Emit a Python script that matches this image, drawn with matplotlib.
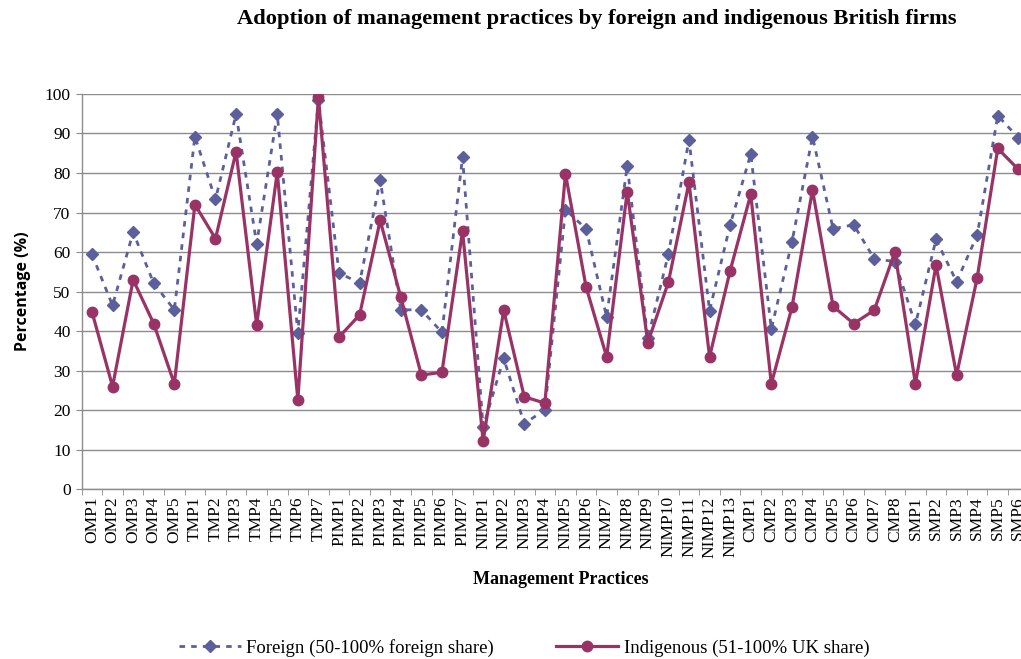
import numpy as np
import matplotlib.pyplot as plt

# Management practice codes (x categories)
practices = (["OMP%d" % i for i in range(1, 6)] +
             ["TMP%d" % i for i in range(1, 8)] +
             ["PIMP%d" % i for i in range(1, 8)] +
             ["NIMP%d" % i for i in range(1, 14)] +
             ["CMP%d" % i for i in range(1, 9)] +
             ["SMP%d" % i for i in range(1, 7)])

# Foreign (50-100% foreign share)
foreign = [59.4, 46.5, 65.0, 52.1, 45.4,
           89.2, 73.3, 94.9, 62.1, 94.9, 39.5, 98.5,
           54.7, 52.2, 78.2, 45.4, 45.4, 39.7, 84.0,
           15.7, 33.1, 16.6, 20.1, 70.7, 65.9, 43.6, 81.8, 38.2, 59.5, 88.4, 45.2, 66.9,
           84.8, 40.6, 62.5, 89.2, 65.9, 66.9, 58.3, 57.6,
           41.7, 63.2, 52.5, 64.3, 94.5, 88.9]

# Indigenous (51-100% UK share)
indigenous = [44.9, 26.0, 53.0, 41.9, 26.7,
              72.0, 63.4, 85.4, 41.6, 80.2, 22.6, 99.1,
              38.5, 44.1, 68.0, 48.6, 28.9, 29.6, 65.3,
              12.2, 45.3, 23.4, 21.8, 79.8, 51.2, 33.5, 75.3, 37.1, 52.4, 77.6, 33.5, 55.3,
              74.6, 26.7, 46.0, 75.7, 46.3, 41.9, 45.3, 60.0,
              26.7, 56.7, 28.9, 53.5, 86.2, 80.9]

serif = "Liberation Serif"
grid_col = "#8c8c8c"

fig = plt.figure(figsize=(10.21, 6.59), dpi=100)
ax = fig.add_axes([0.080, 0.2575, 0.9275, 0.600])

x = np.arange(len(practices))
ax.plot(x, foreign, color="#5b5f9c", linestyle=(0, (2, 2.2)), linewidth=2.0,
        marker="D", markersize=6.5, label="Foreign (50-100% foreign share)", zorder=3)
ax.plot(x, indigenous, color="#993366", linestyle="-", linewidth=2.3,
        marker="o", markersize=7.5, label="Indigenous (51-100% UK share)", zorder=4)

ax.set_xlim(-0.5, len(practices) - 0.5)
ax.set_ylim(0, 100)
ax.set_yticks(range(0, 101, 10))
ax.yaxis.grid(True, color=grid_col, linewidth=1.0)
ax.set_axisbelow(True)

ax.set_xticks(x)
ax.set_xticklabels(practices, rotation=90, fontsize=12.5, family=serif)
ax.set_xticks(np.arange(-0.5, len(practices), 1), minor=True)
ax.tick_params(axis="x", which="major", length=0, pad=5)
ax.tick_params(axis="x", which="minor", length=4, color=grid_col)
ax.tick_params(axis="y", length=4, color=grid_col, labelsize=12.5, pad=4)
for lab in ax.get_yticklabels():
    lab.set_family(serif)

for s in ["top", "right"]:
    ax.spines[s].set_visible(False)
for s in ["left", "bottom"]:
    ax.spines[s].set_color(grid_col)
    ax.spines[s].set_linewidth(1.0)

ax.set_ylabel("Percentage (%)", fontsize=11.5, fontweight="bold", family="Open Sans", labelpad=10)
fig.text(561 / 1021, 1 - 579 / 659, "Management Practices", ha="center", va="center",
         fontsize=13, fontweight="bold", family=serif)
fig.text(597 / 1021, 1 - 19 / 659,
         "Adoption of management practices by foreign and indigenous British firms",
         ha="center", va="center", fontsize=16.2, fontweight="bold", family=serif)

fig.legend(loc="center", bbox_to_anchor=(524 / 1021, 1 - 648 / 659), ncol=2,
           frameon=False, prop={"family": serif, "size": 13.5},
           columnspacing=3.3, handlelength=3.3, handletextpad=0.3)

fig.savefig("out.png", dpi=100)
